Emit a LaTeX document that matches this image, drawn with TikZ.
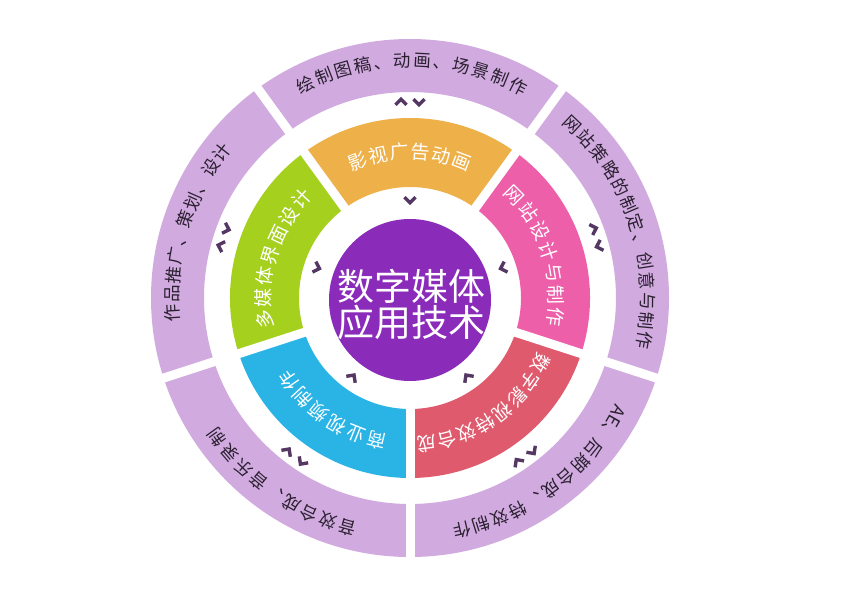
\documentclass[tikz,border=0pt]{standalone}
\usepackage{fontspec}
\newfontfamily\cjk{Noto Sans CJK SC}
\definecolor{lilac}{HTML}{D1AADF}
\definecolor{segorange}{HTML}{EEB048}
\definecolor{segpink}{HTML}{EE5FAA}
\definecolor{segred}{HTML}{E05A6E}
\definecolor{segblue}{HTML}{2AB4E6}
\definecolor{seggreen}{HTML}{A5D01E}
\definecolor{centpurple}{HTML}{8A2BBA}
\definecolor{chevc}{HTML}{553764}
\definecolor{outtxt}{HTML}{2A2030}
\tikzset{
  chartxt/.style={inner sep=0pt, outer sep=0pt, text height=0.88em, text depth=0.12em, anchor=center},
  innertxt/.style={chartxt, text=white, font=\cjk\fontsize{19}{19}\selectfont},
  outertxt/.style={chartxt, text=outtxt, font=\cjk\fontsize{17.5}{17.5}\selectfont},
  gapline/.style={white, line width=9pt},
  chev/.style={draw=chevc, line width=3.4pt, line join=miter},
}
\newcommand\sector[5]{%
  \fill[#1] (#2:#4) arc[start angle=#2, end angle=#3, radius=#4] -- (#3:#5)
    arc[start angle=#3, end angle=#2, radius=#5] -- cycle;}
\newcommand\arclabel[6]{% prefix, style, radius, start, pitch, list
  \foreach \ch [count=\i from 0] in {#6} {
    \pgfmathsetmacro\ang{#4-\i*#5}
    \node[#2, rotate=\ang-90] (#1\i) at (\ang:#3) {\ch};
  }}
\newcommand\chevin[2]{%
  \begin{scope}[shift={(#1:#2)}, rotate=#1-90]
    \draw[chev] (-5.5pt,2.8pt) -- (0pt,-2.8pt) -- (5.5pt,2.8pt);
  \end{scope}}
\newcommand\chevpair[2]{%
  \begin{scope}[shift={(#1:#2)}, rotate=#1-90]
    \draw[chev] (-14.5pt,-2.8pt) -- (-9pt,2.8pt) -- (-3.5pt,-2.8pt);
    \draw[chev] (3.5pt,2.8pt) -- (9pt,-2.8pt) -- (14.5pt,2.8pt);
  \end{scope}}
\begin{document}
\begin{tikzpicture}[x=1pt,y=1pt]
\useasboundingbox[fill=white] (-410,-297) rectangle (432,298);
% outer ring
\fill[lilac, even odd rule] (0,0) circle[radius=259pt] (0,0) circle[radius=206pt];
% inner ring segments
\sector{segorange}{54}{126}{180pt}{111pt}
\sector{segpink}{-18}{54}{180pt}{111pt}
\sector{segred}{-90}{-18}{180pt}{111pt}
\sector{segblue}{198}{270}{180pt}{111pt}
\sector{seggreen}{126}{198}{180pt}{111pt}
% gaps
\foreach \a in {54,126,198,270,342} \draw[gapline] (\a:104pt) -- (\a:266pt);
% centre
\fill[centpurple] (0,-2pt) circle[radius=81pt];
\node[text=white, align=center, inner sep=0pt, font=\cjk\fontsize{37}{36}\selectfont] (title) at (1pt,-6pt) {数字媒体\\应用技术};
% chevrons
\foreach \a in {90,18,306,234,162} {\chevin{\a}{98pt}}
\foreach \a in {90,18,306,234,162} {\chevpair{\a}{196pt}}
% inner labels
\arclabel{or}{innertxt}{143pt}{110.75}{8.3}{影,视,广,告,动,画}
\arclabel{pk}{innertxt}{143pt}{44.6}{8.7}{网,站,设,计,与,制,作}
\arclabel{rd}{innertxt}{143pt}{333.35}{8.1}{数,字,影,视,特,效,合,成}
\arclabel{bl}{innertxt}{143pt}{256.75}{8.5}{商,业,视,频,制,作}
\arclabel{gr}{innertxt}{143pt}{188.5}{8.5}{多,媒,体,界,面,设,计}
% outer labels
\arclabel{ot}{outertxt}{235pt}{116}{4.82}{绘,制,图,稿,、,动,画,、,场,景,制,作}
\arclabel{ou}{outertxt}{235pt}{46.9}{4.76}{网,站,策,略,的,制,定,、,创,意,与,制,作}
\node[outertxt, rotate=-29.8-90] (aeA) at (-29.8:235pt) {AE};
\arclabel{ol}{outertxt}{235pt}{-34.55}{4.75}{、,后,期,合,成,、,特,效,制,作}
\arclabel{ob}{outertxt}{235pt}{254.6}{4.85}{音,效,合,成,、,音,乐,录,制}
\arclabel{ow}{outertxt}{235pt}{183.65}{4.6}{作,品,推,广,、,策,划,、,设,计}
\end{tikzpicture}
\end{document}
